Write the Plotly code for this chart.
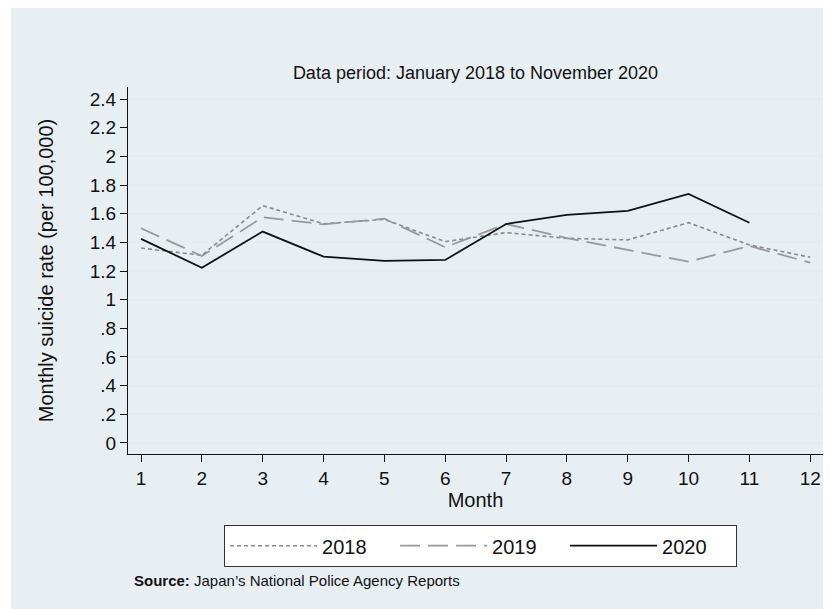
import plotly.graph_objects as go

months = list(range(1, 13))
years = ["2018", "2019", "2020"]
rate_2018 = [1.36, 1.31, 1.656, 1.53, 1.56, 1.405, 1.468, 1.428, 1.417, 1.537, 1.382, 1.296]
rate_2019 = [1.498, 1.305, 1.575, 1.526, 1.565, 1.366, 1.528, 1.43, 1.347, 1.265, 1.375, 1.258]
rate_2020 = [1.424, 1.223, 1.475, 1.30, 1.27, 1.277, 1.528, 1.591, 1.619, 1.738, 1.537]
y_tickvals = [0, 0.2, 0.4, 0.6, 0.8, 1.0, 1.2, 1.4, 1.6, 1.8, 2.0, 2.2, 2.4]
y_ticktext = ["0", ".2", ".4", ".6", ".8", "1", "1.2", "1.4", "1.6", "1.8", "2", "2.2", "2.4"]

BG = "#e8eff3"
GRID = "#e4edf1"
FONT = "Liberation Sans, Arial, sans-serif"

# figure is placed by the page with an 8px body margin
W, H = 823, 601
L, R, T, B = 120, 8, 79, 155
PW, PH = W - L - R, H - T - B

series = [rate_2018, rate_2019, rate_2020]
styles = [
    dict(color="#8a8a8a", width=1.6, dash="4px,3px"),
    dict(color="#999999", width=1.8, dash="20px,8px"),
    dict(color="#111111", width=1.8, dash="solid"),
]

fig = go.Figure()
for name, vals, st in zip(years, series, styles):
    fig.add_trace(go.Scatter(
        x=months[:len(vals)], y=vals, mode="lines", name=name, line=st,
    ))

fig.update_layout(
    width=W, height=H, autosize=False,
    margin=dict(l=L, r=R, t=T, b=B),
    paper_bgcolor="white", plot_bgcolor="white",
    font=dict(family=FONT, color="#111111", size=19),
    title=dict(text="Data period: January 2018 to November 2020",
               x=0.5, xref="paper", xanchor="center",
               y=1 - 65 / H, yref="container", yanchor="middle",
               font=dict(size=18, color="#111111")),
    showlegend=True,
    legend=dict(orientation="h", x=0.507, xanchor="center", y=(446 - 517) / PH, yanchor="top",
                bgcolor="white", bordercolor="#333333", borderwidth=1.2,
                font=dict(size=20), entrywidth=68, entrywidthmode="pixels",
                itemwidth=87),
    shapes=[dict(type="rect", xref="paper", yref="paper",
                 x0=(3 - L) / PW, x1=1.05, y0=-0.45, y1=(T + PH) / PH,
                 fillcolor=BG, line=dict(width=0), layer="below")],
    annotations=[dict(text="<b>Source:</b> Japan’s National Police Agency Reports",
                      xref="paper", yref="paper", x=(124 - L) / PW,
                      y=(446 - 572) / PH, xanchor="left", yanchor="middle",
                      showarrow=False, font=dict(size=15, color="#111111"))],
)

fig.update_xaxes(
    range=[0.786, 12.21], tickvals=months, ticks="outside", ticklen=7,
    tickcolor="#111111", showline=True, linecolor="#111111", linewidth=1,
    showgrid=False, zeroline=False, tickfont=dict(size=19),
    title=dict(text="Month", font=dict(size=20), standoff=2),
)
fig.update_yaxes(
    range=[-0.077, 2.484], tickvals=y_tickvals, ticktext=y_ticktext,
    ticks="outside", ticklen=7, tickcolor="#111111", showline=True,
    linecolor="#111111", linewidth=1, showgrid=True, gridcolor=GRID,
    gridwidth=1.5, zeroline=False, tickfont=dict(size=19),
    title=dict(text="Monthly suicide rate (per 100,000)", font=dict(size=20), standoff=30),
)

fig.write_html("out.html")
